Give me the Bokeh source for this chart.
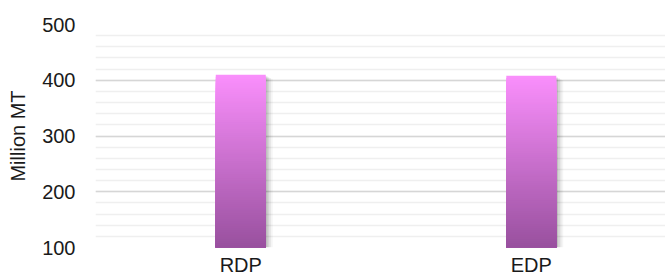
from bokeh.plotting import figure
from bokeh.models import Range1d, FixedTicker, SingleIntervalTicker
from bokeh.embed import file_html
from bokeh.resources import INLINE

# ---- data ----
categories = ["RDP", "EDP"]
values = [410, 408]
y_ticks = [100, 200, 300, 400, 500]

# ---- style ----
top_rgb = (250, 143, 252)
bot_rgb = (152, 80, 158)
n_slices = 80
bar_w = 0.172

y0, y1 = y_ticks[0], y_ticks[-1]
xs = list(range(1, len(categories) + 1))

p = figure(width=665, height=278, output_backend="svg", toolbar_location=None,
           x_range=Range1d(0.5, 2.462), y_range=Range1d(y0, y1),
           min_border_left=95, min_border_right=0, min_border_top=24, min_border_bottom=10)
p.outline_line_color = None
p.background_fill_color = "white"

# shadow
for k, a in enumerate([0.10, 0.08, 0.06, 0.04]):
    off = 0.006 * (k + 1)
    p.quad(left=[x - bar_w / 2 + off for x in xs], right=[x + bar_w / 2 + off for x in xs],
           bottom=[y0 for _ in xs], top=[v - 1.5 * (k + 2) for v in values],
           fill_color="black", fill_alpha=a, line_color=None)

# gradient bars (drawn as overlapping columns from the base, tallest first)
for x, v in zip(xs, values):
    L, R, B, T, cols = [], [], [], [], []
    for i in reversed(range(n_slices)):
        t = y0 + (v - y0) * (i + 1) / n_slices
        f = (i + 0.5) / n_slices
        c = tuple(int(round(bot_rgb[j] + (top_rgb[j] - bot_rgb[j]) * f)) for j in range(3))
        L.append(x - bar_w / 2); R.append(x + bar_w / 2)
        B.append(y0); T.append(t)
        cols.append("#%02x%02x%02x" % c)
    p.quad(left=L, right=R, bottom=B, top=T, fill_color=cols, line_color=None)

# axes
p.xaxis.ticker = FixedTicker(ticks=xs)
p.xaxis.major_label_overrides = {x: c for x, c in zip(xs, categories)}
p.xaxis.axis_line_color = None
p.xaxis.major_tick_line_color = None
p.xaxis.minor_tick_line_color = None
p.xaxis.major_tick_out = 0
p.xaxis.minor_tick_out = 0
p.xaxis.major_label_standoff = 6
p.xaxis.major_label_text_font = "Liberation Sans"
p.xaxis.major_label_text_font_size = "20px"
p.xaxis.major_label_text_color = "#1a1a1a"

p.yaxis.ticker = SingleIntervalTicker(interval=100, num_minor_ticks=5)
p.yaxis.axis_line_color = None
p.yaxis.major_tick_line_color = None
p.yaxis.minor_tick_line_color = None
p.yaxis.major_tick_out = 0
p.yaxis.minor_tick_out = 0
p.yaxis.major_label_standoff = 20
p.yaxis.major_label_text_font = "Liberation Sans"
p.yaxis.major_label_text_font_size = "20px"
p.yaxis.major_label_text_color = "#1a1a1a"
p.yaxis.axis_label = "Million MT"
p.yaxis.axis_label_standoff = 10
p.yaxis.axis_label_text_font = "Liberation Sans"
p.yaxis.axis_label_text_font_size = "20px"
p.yaxis.axis_label_text_font_style = "normal"
p.yaxis.axis_label_text_color = "#1a1a1a"

p.xgrid.grid_line_color = None
p.ygrid.grid_line_color = "#d6d6d6"
p.ygrid.grid_line_width = 1.6
p.ygrid.minor_grid_line_color = "#efefef"
p.ygrid.minor_grid_line_width = 1.6
p.ygrid.level = "underlay"

open("out.html", "w").write(file_html(p, INLINE))
